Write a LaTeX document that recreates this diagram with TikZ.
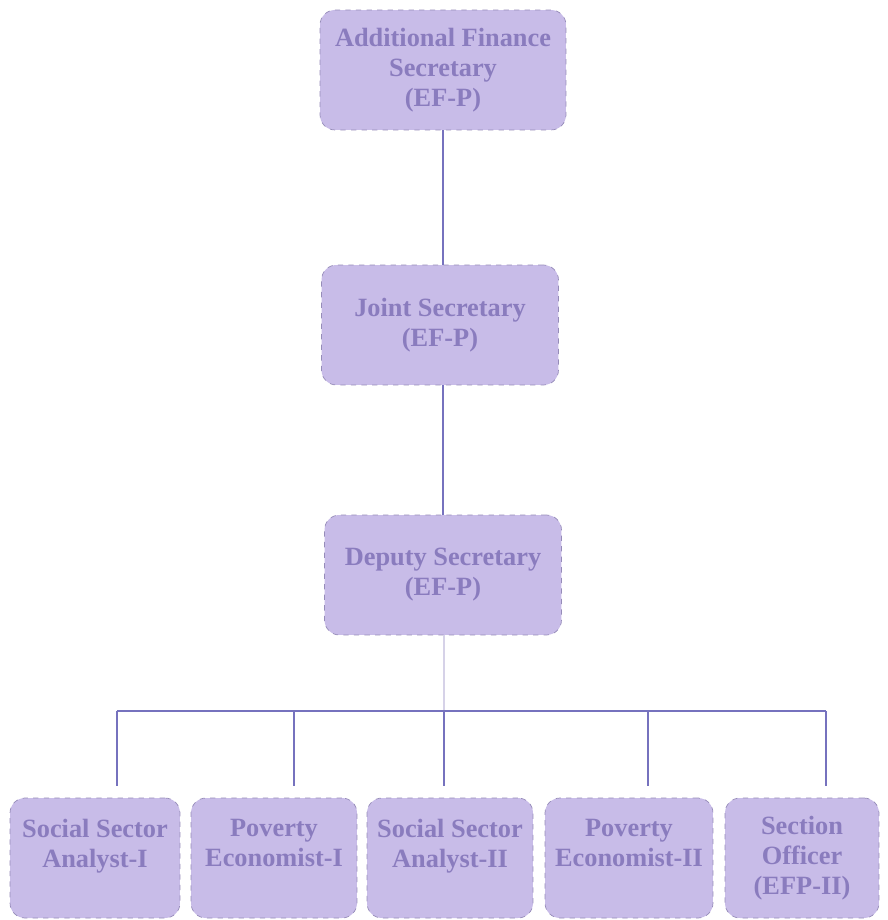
\documentclass[tikz,border=0pt]{standalone}
\usepackage{fontspec}
\setmainfont{Liberation Serif}
\usetikzlibrary{positioning}

\definecolor{boxfill}{RGB}{200,188,232}
\definecolor{boxtext}{RGB}{138,124,190}
\definecolor{boxline}{RGB}{150,140,185}
\definecolor{linkline}{RGB}{118,114,190}
\definecolor{fadeline}{RGB}{214,210,232}

\tikzset{
  post/.style={draw=boxline, dashed, fill=boxfill, rounded corners=0.3cm,
    text=boxtext, font=\bfseries\fontsize{15}{17}\selectfont, align=center,
    minimum height=2.4cm, inner sep=0pt},
  link/.style={draw=linkline, line width=1.2pt}
}

\begin{document}
\begin{tikzpicture}[x=0.02cm, y=-0.02cm]
  \useasboundingbox (0,0) rectangle (887,920);

  % posts
  \node[post, minimum width=4.92cm] (afs) at (443,70) {Additional Finance\\Secretary\\(EF-P)};
  \node[post, minimum width=4.74cm] (js) at (440,325) {Joint Secretary\\(EF-P)};
  \node[post, minimum width=4.74cm] (ds) at (443,575) {Deputy Secretary\\(EF-P)};

  \node[post, minimum width=3.4cm] (ssa1) at (95,858) {Social Sector\\Analyst-I\\~};
  \node[post, minimum width=3.32cm] (pe1) at (274,858) {Poverty\\Economist-I\\~};
  \node[post, minimum width=3.32cm] (ssa2) at (450,858) {Social Sector\\Analyst-II\\~};
  \node[post, minimum width=3.36cm] (pe2) at (629,858) {Poverty\\Economist-II\\~};
  \node[post, minimum width=3.08cm] (so) at (802,858) {Section\\Officer\\(EFP-II)};

  % bus and drop ends
  \coordinate (bus) at (444,711);
  \coordinate (d1) at (117,786);
  \coordinate (d2) at (294,786);
  \coordinate (d3) at (444,786);
  \coordinate (d4) at (648,786);
  \coordinate (d5) at (826,786);

  % lines
  \draw[link] (afs.south) -- (afs.south |- js.north);
  \draw[link] (afs.south |- js.south) -- (afs.south |- ds.north);
  \draw[draw=fadeline, line width=1.2pt] (bus |- ds.south) -- (bus);
  \draw[link] (d1 |- bus) -- (d5 |- bus);
  \foreach \d in {d1,d2,d3,d4,d5}
    \draw[link] (\d |- bus) -- (\d);

\end{tikzpicture}
\end{document}
